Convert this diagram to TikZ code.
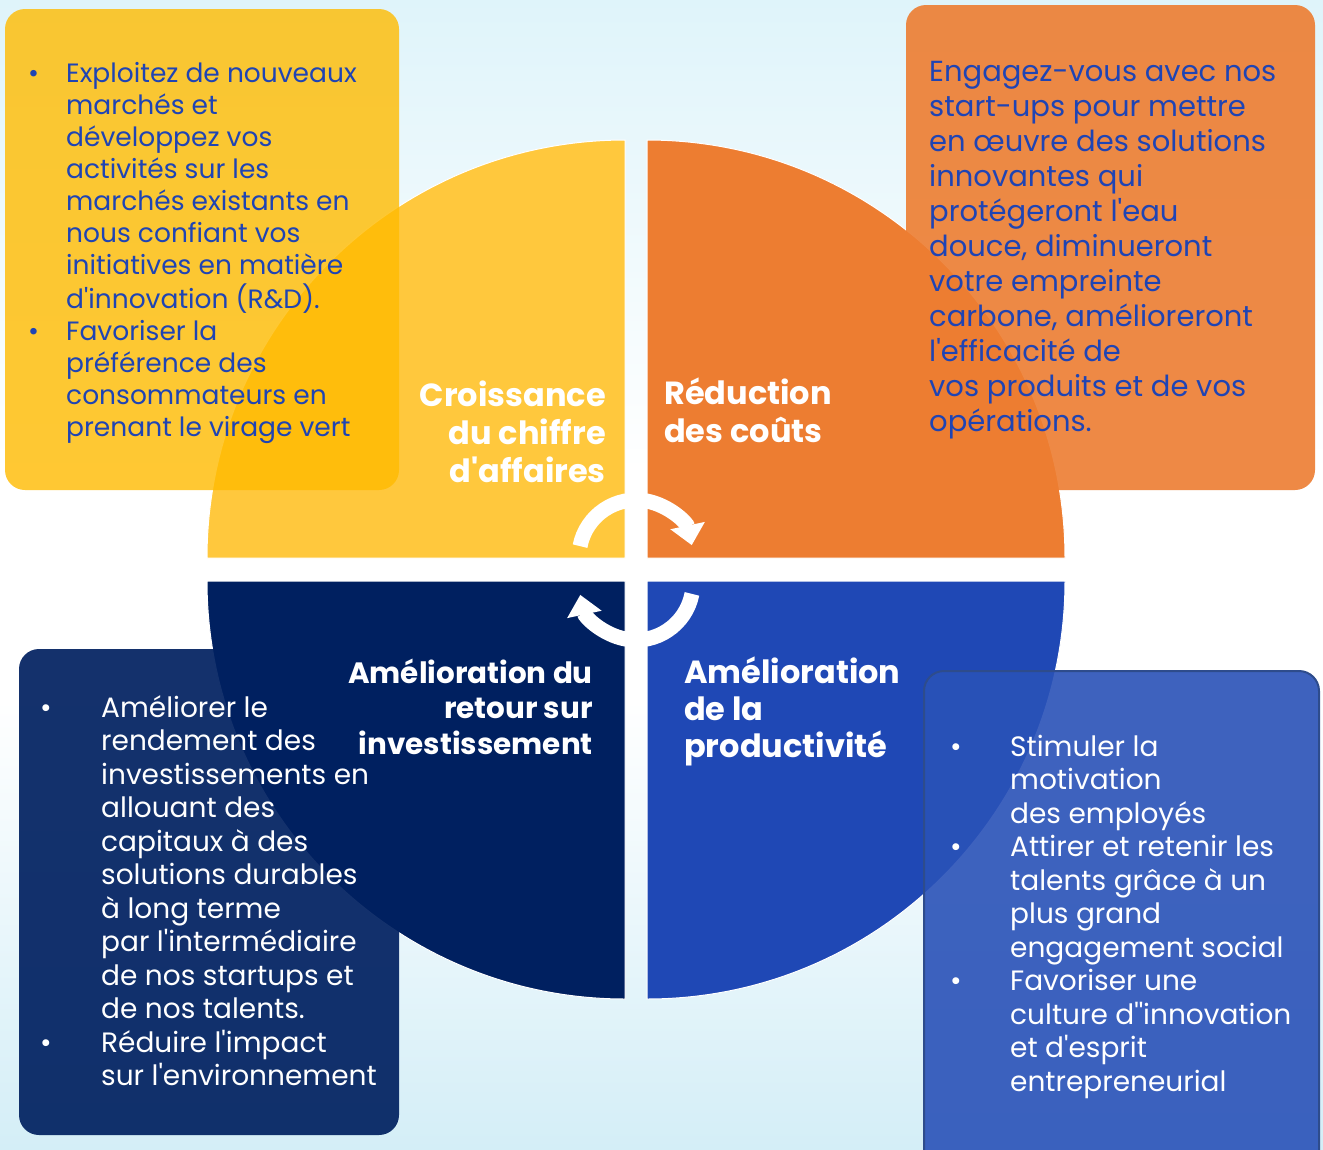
\documentclass[tikz,border=0pt]{standalone}
\usepackage{fontspec}
\setmainfont{Poppins}
\usetikzlibrary{arrows.meta}

\definecolor{bgtop}{HTML}{DFF4FA}
\definecolor{bgbot}{HTML}{D4EEF7}
\definecolor{qyellow}{HTML}{FFC83D}
\definecolor{qorange}{HTML}{ED7D31}
\definecolor{qnavy}{HTML}{002060}
\definecolor{qblue}{HTML}{1F48B5}
\definecolor{cyellow}{HTML}{FFBB00}
\definecolor{cblue}{HTML}{2A52B8}
\definecolor{cedge}{HTML}{2E4C8C}
\definecolor{ink}{HTML}{1F44B4}

\newcommand{\apo}{\textquotesingle}

\tikzset{
  x=1pt, y=-1pt,
  card/.style={rounded corners=20pt},
  quad/.style={draw=white, line width=1pt},
  lbl/.style={text=white, inner sep=0pt, font=\bfseries\fontsize{32}{38}\selectfont},
  boxtxt/.style={inner sep=0pt, font=\fontsize{26.5}{32}\selectfont},
  turnarrow/.style={white, line width=15pt, -{Triangle[width=34pt,length=20pt]}},
}

\begin{document}
\begin{tikzpicture}
  \useasboundingbox (0,0) rectangle (1323,1149);
  \clip (0,0) rectangle (1323,1149);
  \fill[white] (0,0) rectangle (1323,1149);
  \shade[top color=bgtop, bottom color=white] (0,0) rectangle (1323,470);
  \shade[top color=white, bottom color=bgbot] (0,700) rectangle (1323,1149);

  % quarters of the wheel
  \fill[qyellow, quad] (625,558) -- (207,558) arc[start angle=180, end angle=270, radius=418] -- cycle;
  \fill[qorange, quad] (647,558) -- (647,140) arc[start angle=270, end angle=360, radius=418] -- cycle;
  \fill[qblue, quad]   (647,581) -- (1065,581) arc[start angle=0, end angle=90, radius=418] -- cycle;
  \fill[qnavy, quad]   (625,581) -- (625,999) arc[start angle=90, end angle=180, radius=418] -- cycle;

  % turning arrows
  \coordinate (up) at (636,557);
  \coordinate (down) at (636,583);
  \draw[turnarrow] ([shift={(191:57)}]up) arc[start angle=191, end angle=348, radius=57];
  \draw[turnarrow] ([shift={(11:57)}]down) arc[start angle=11, end angle=168, radius=57];

  % cards
  \fill[card, cyellow, opacity=0.8]  (5,9) rectangle (399,490);
  \fill[card, qorange, opacity=0.9]  (906,5) rectangle (1315,490);
  \fill[card, qnavy, opacity=0.92]   (19,649) rectangle (399,1135);
  \filldraw[card, fill=cblue, fill opacity=0.9, draw=cedge, line width=2pt] (924,671) rectangle (1319,1170);

  \node[boxtxt, text=ink, anchor=base west] (growtxt) at (28,82) {\begin{tabular}[t]{@{}p{38pt}@{}l@{}}
    \textbullet & Exploitez de nouveaux\\
    & marchés et\\
    & développez vos\\
    & activités sur les\\
    & marchés existants en\\
    & nous confiant vos\\
    & initiatives en matière\\
    & d\apo innovation (R\&D).\\
    \textbullet & Favoriser la\\
    & préférence des\\
    & consommateurs en\\
    & prenant le virage vert
  \end{tabular}};

  \node[boxtxt, text=ink, font=\fontsize{29}{35}\selectfont, anchor=base west] (costtxt) at (929,81) {\begin{tabular}[t]{@{}l@{}}
    Engagez-vous avec nos\\
    start-ups pour mettre\\
    en œuvre des solutions\\
    innovantes qui\\
    protégeront l\apo eau\\
    douce, diminueront\\
    votre empreinte\\
    carbone, amélioreront\\
    l\apo efficacité de\\
    vos produits et de vos\\
    opérations.
  \end{tabular}};

  \node[boxtxt, text=white, font=\fontsize{28}{33.5}\selectfont, anchor=base west] (roitxt) at (40,717) {\begin{tabular}[t]{@{}p{61pt}@{}l@{}}
    \textbullet & Améliorer le\\
    & rendement des\\
    & investissements en\\
    & allouant des\\
    & capitaux à des\\
    & solutions durables\\
    & à long terme\\
    & par l\apo intermédiaire\\
    & de nos startups et\\
    & de nos talents.\\
    \textbullet & Réduire l\apo impact\\
    & sur l\apo environnement
  \end{tabular}};

  \node[boxtxt, text=white, font=\fontsize{28}{33.5}\selectfont, anchor=base west] (prodtxt) at (950,756) {\begin{tabular}[t]{@{}p{60pt}@{}l@{}}
    \textbullet & Stimuler la\\
    & motivation\\
    & des employés\\
    \textbullet & Attirer et retenir les\\
    & talents grâce à un\\
    & plus grand\\
    & engagement social\\
    \textbullet & Favoriser une\\
    & culture d\apo\apo innovation\\
    & et d\apo esprit\\
    & entrepreneurial
  \end{tabular}};

  % quarter titles
  \node[lbl, anchor=base east] (grow) at (606,406) {\begin{tabular}[t]{@{}r@{}}Croissance\\du chiffre\\d\apo affaires\end{tabular}};
  \node[lbl, anchor=base west] (cost) at (664,404) {\begin{tabular}[t]{@{}l@{}}Réduction\\des coûts\end{tabular}};
  \node[lbl, font=\bfseries\fontsize{29.4}{35.5}\selectfont, anchor=base east] (roi) at (593,683) {\begin{tabular}[t]{@{}r@{}}Amélioration du\\retour sur\\investissement\end{tabular}};
  \node[lbl, font=\bfseries\fontsize{32}{37}\selectfont, anchor=base west] (prod) at (684,683) {\begin{tabular}[t]{@{}l@{}}Amélioration\\de la\\productivité\end{tabular}};
\end{tikzpicture}
\end{document}
